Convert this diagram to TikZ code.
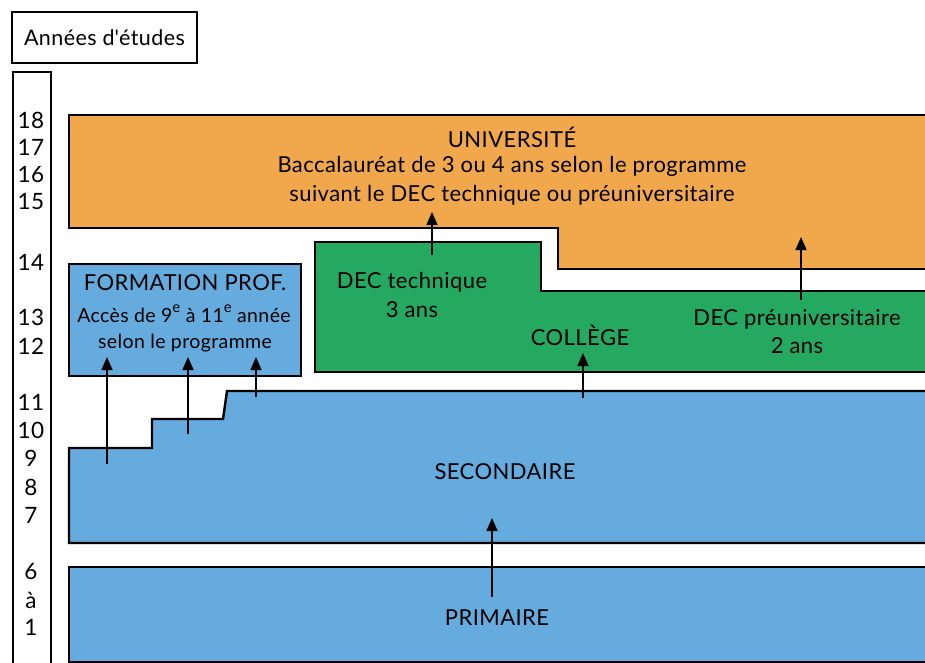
\documentclass[tikz,border=0pt]{standalone}
\usepackage{fontspec}
\setmainfont{Lato}[LetterSpace=2]
\usetikzlibrary{arrows.meta}
\definecolor{orng}{RGB}{241,167,76}
\definecolor{grn}{RGB}{37,168,96}
\definecolor{blu}{RGB}{102,171,222}
\newcommand\supE{\raisebox{0.5em}{\fontsize{15}{15}\selectfont e}}
\newcommand\straightapos{\XeTeXglyph\numexpr\XeTeXcharglyph"0027\relax}
\begin{document}
\begin{tikzpicture}[x=1pt,y=-1pt,
  box/.style={line width=2.4pt, draw=black},
  arr/.style={line width=1.6pt, -{Triangle[width=11pt,length=13pt]}},
  lab/.style={font=\fontsize{22}{26}\selectfont, align=center, inner sep=0pt},
  small/.style={font=\fontsize{19.5}{23}\selectfont},
  num/.style={font=\fontsize{22.5}{26}\selectfont, inner sep=0pt}]
\useasboundingbox (0,0) rectangle (925,663);
\begin{scope}
\clip (0,0) rectangle (925,663);
% axis column
\draw[box] (13,690) -- (13,72) -- (51,72) -- (51,690);
% universite
\draw[box, fill=orng] (69,115) -- (945,115) -- (945,269) -- (558,269) -- (558,228) -- (69,228) -- cycle;
% college
\draw[box, fill=grn] (315,242) -- (541,242) -- (541,291) -- (945,291) -- (945,372) -- (315,372) -- cycle;
% formation prof
\draw[box, fill=blu] (69,264) rectangle (301,376);
% secondaire
\draw[box, fill=blu] (69,543) -- (69,448) -- (152,448) -- (152,419) -- (223,419) -- (227,391) -- (945,391) -- (945,543) -- cycle;
% primaire
\draw[box, fill=blu] (69,567) rectangle (945,662);
\end{scope}

% title
\node (title) [box, minimum width=185pt, minimum height=51pt, inner sep=0pt, font=\fontsize{21.5}{25}\selectfont] at (104.5,37.5) {Années d\straightapos études};

% numbers
\foreach \t/\y [count=\i] in {18/120,17/147,16/175,15/202,14/262,13/317,12/346,11/402,10/430,9/458,8/487,7/515,6/572,à/600,1/627}
  \node (n\i) [num] at (31,\y) {\t};

% texts
\node (univ) [lab] at (512,137) {UNIVERSITÉ};
\node (bac1) [lab] at (512,166) {Baccalauréat de 3 ou 4 ans selon le programme};
\node (bac2) [lab] at (512,195) {suivant le DEC technique ou préuniversitaire};
\node (fp1) [lab] at (185,283) {FORMATION PROF.};
\node (fp2) [lab, small] at (184,314) {Accès de 9\supE{} à 11\supE{} année};
\node (fp3) [lab, small] at (185,343) {selon le programme};
\node (dect1) [lab] at (412,282) {DEC technique};
\node (dect2) [lab] at (412,310) {3 ans};
\node (coll) [lab] at (580,335) {COLLÈGE};
\node (decp1) [lab] at (797,319) {DEC préuniversitaire};
\node (decp2) [lab] at (797,346) {2 ans};
\node (sec) [lab] at (505,472) {SECONDAIRE};
\node (prim) [lab] at (497,618) {PRIMAIRE};

% arrow endpoints
\coordinate (a1s) at (107,464); \coordinate (a1e) at (107,357);
\coordinate (a2s) at (188,434); \coordinate (a2e) at (188,357);
\coordinate (a3s) at (256,397); \coordinate (a3e) at (256,357);
\coordinate (a4s) at (432,255); \coordinate (a4e) at (432,212);
\coordinate (a5s) at (801,300); \coordinate (a5e) at (801,237);
\coordinate (a6s) at (583,398); \coordinate (a6e) at (583,353);
\coordinate (a7s) at (492,597); \coordinate (a7e) at (492,518);
\foreach \k in {1,...,7} \draw[arr] (a\k s) -- (a\k e);
\end{tikzpicture}
\end{document}
